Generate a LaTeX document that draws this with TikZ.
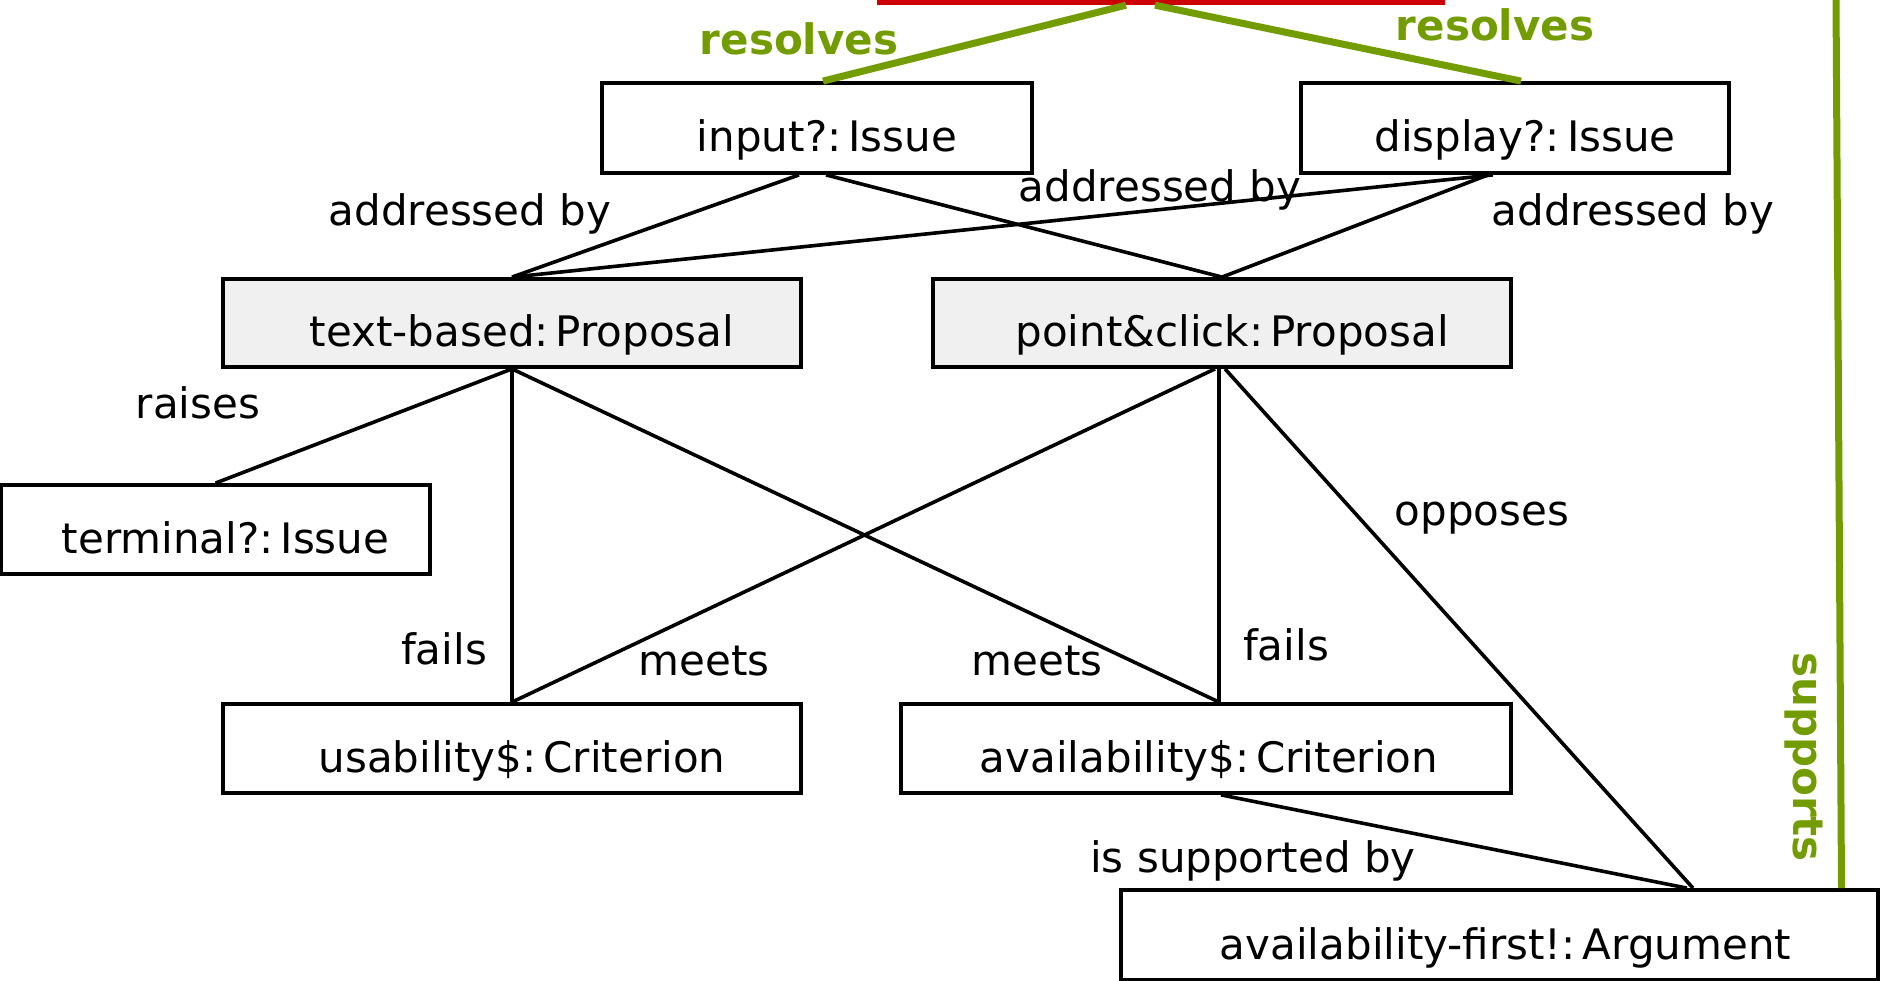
\documentclass[tikz,border=0pt]{standalone}
\usepackage{fontspec}
\setmainfont{DejaVu Sans}
\definecolor{argred}{HTML}{CC0000}
\definecolor{arggreen}{HTML}{739C00}
\definecolor{propgray}{HTML}{F0F0F0}
\begin{document}
\begin{tikzpicture}[x=1pt,y=-1pt,
  every node/.style={font=\fontsize{42}{50}\selectfont},
  box/.style={draw=black, line width=3.8pt, fill=white, rectangle, minimum height=90pt,
    text height=52pt, text depth=4pt, inner sep=0pt},
  sh/.style={execute at begin node={\hspace*{#1}}},
  prop/.style={box, fill=propgray, minimum height=88pt},
  conn/.style={draw=black, line width=3.6pt},
  green/.style={draw=arggreen, line width=7pt},
  lbl/.style={anchor=base, inner sep=0pt},
  glbl/.style={lbl, text=arggreen, font=\fontsize{42}{50}\selectfont\bfseries}
]
\useasboundingbox (0,0) rectangle (1883,981);
\clip (0,0) rectangle (1883,981);

% top (red) node, mostly outside the picture
\node[fill=argred, inner sep=0pt, minimum width=568pt, minimum height=5pt] (top) at (1161,2.5) {};

% boxes
\node[box, sh=20pt, minimum width=430pt] (input) at (817,128) {input?:\,Issue};
\node[box, sh=20pt, minimum width=428pt] (display) at (1515,128) {display?:\,Issue};
\node[prop, sh=20pt, minimum width=578pt] (text) at (512,323) {text-based:\,Proposal};
\node[prop, sh=20pt, minimum width=578pt] (pc) at (1222,323) {point\&click:\,Proposal};
\node[box, sh=20pt, minimum width=429pt, minimum height=89pt] (terminal) at (215.5,529.5) {terminal?:\,Issue};
\node[box, sh=20pt, minimum width=578pt, minimum height=89pt] (usab) at (512,748.5) {usability\$:\,Criterion};
\node[box, sh=6pt, minimum width=610pt, minimum height=89pt] (avail) at (1206,748.5) {availability\$:\,Criterion};
\node[box, sh=12pt, minimum width=757pt] (arg) at (1499.5,935) {availability-first!:\,Argument};

\coordinate (suptop) at (1836,0);

% green connectors
\draw[green] ([xshift=-35pt]top.south) -- ([xshift=6pt]input.north);
\draw[green] ([xshift=-6pt]top.south) -- ([xshift=6pt]display.north);
\draw[green] ([xshift=342pt]arg.north) -- (suptop);

% black connectors
\draw[conn] ([xshift=-18pt]input.south) -- (text.north);
\draw[conn] ([xshift=9pt]input.south) -- (pc.north);
\draw[conn] ([xshift=-22pt]display.south) -- (text.north);
\draw[conn] ([xshift=-27pt]display.south) -- (pc.north);
\draw[conn] (text.south) -- (terminal.north);
\draw[conn] (text.south) -- (usab.north);
\draw[conn] (text.south) -- ([xshift=13pt]avail.north);
\draw[conn] ([xshift=-7pt]pc.south) -- (usab.north);
\draw[conn] ([xshift=-3pt]pc.south) -- ([xshift=13pt]avail.north);
\draw[conn] ([xshift=3pt]pc.south) -- ([xshift=193.5pt]arg.north);
\draw[conn] ([xshift=15pt]avail.south) -- ([xshift=187.5pt]arg.north);

% labels
\node[glbl] (l1) at (799,55) {resolves};
\node[glbl] (l2) at (1495,41) {resolves};
\node[lbl] (l3) at (470,226) {addressed by};
\node[lbl] (l4) at (1160,202) {addressed by};
\node[lbl] (l5) at (1633,226) {addressed by};
\node[lbl] (l6) at (198,419) {raises};
\node[lbl] (l7) at (444,664) {fails};
\node[lbl] (l8) at (704,675) {meets};
\node[lbl] (l9) at (1037,675) {meets};
\node[lbl] (l10) at (1286,660) {fails};
\node[lbl] (l11) at (1482,525) {opposes};
\node[lbl] (l12) at (1253,872) {is supported by};
\node[text=arggreen, font=\fontsize{42}{50}\selectfont\bfseries, rotate=-90, inner sep=0pt] (l13) at (1804,757) {supports};
\end{tikzpicture}
\end{document}
